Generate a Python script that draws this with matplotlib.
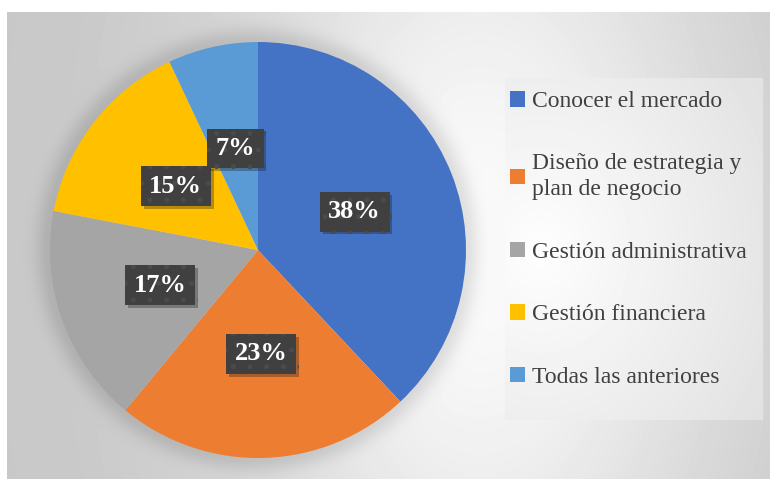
import numpy as np
import matplotlib
matplotlib.use("Agg")
import matplotlib.pyplot as plt
import matplotlib.patheffects as pe

# data
categorias = ["Conocer el mercado", "Diseño de estrategia y\nplan de negocio",
              "Gestión administrativa", "Gestión financiera", "Todas las anteriores"]
valores = [38, 23, 17, 15, 7]
colores = ["#4472C4", "#ED7D31", "#A5A5A5", "#FFC000", "#5B9BD5"]

W, H = 770, 479
plt.rcParams['font.family'] = ['Liberation Serif', 'DejaVu Serif']
plt.rcParams['hatch.linewidth'] = 1.2
fig = plt.figure(figsize=(W / 100, H / 100), dpi=100)


def fx(px):
    return px / W


def fy(py):
    return 1 - py / H


# background with radial gradient and soft shadow around the pie
x0, y0, x1, y1 = 7, 12, 770, 479
bg = fig.add_axes([fx(x0), fy(y1), (x1 - x0) / W, (y1 - y0) / H], zorder=0)
xx, yy = np.meshgrid(np.arange(x0, x1) + 0.5, np.arange(y0, y1) + 0.5)
val = 0.78 + 0.2 * np.exp(-(((xx - 480) / 252) ** 2 + ((yy - 250) / 443) ** 2))
r = np.hypot(xx - 258, yy - 250)
val -= 0.10 * np.exp(-((np.clip(r - 208, 0, None)) / 14) ** 2) * (r > 200)
bg.imshow(np.clip(val, 0, 1), cmap="gray", vmin=0, vmax=1, aspect="auto",
          interpolation="bilinear")
bg.axis("off")

# legend panel
lx0, ly0, lx1, ly1 = 505, 78, 763, 420
lp = fig.add_axes([fx(lx0), fy(ly1), (lx1 - lx0) / W, (ly1 - ly0) / H], zorder=1)
gx, gy = np.meshgrid(np.arange(lx0, lx1) + 0.5, np.arange(ly0, ly1) + 0.5)
lval = 0.995 - 0.11 * np.clip(np.hypot((gx - 540) / 260, (gy - 250) / 300), 0, 1)
lp.imshow(lval, cmap="gray", vmin=0, vmax=1, aspect="auto")
lp.axis("off")

# pie
ax = fig.add_axes([fx(50), fy(458), 416 / W, 416 / H], zorder=2)
wedges, textos, pcts = ax.pie(valores, colors=colores, startangle=90, counterclock=False,
                              autopct="%.0f%%", pctdistance=0.5,
                              wedgeprops=dict(linewidth=0))
for t in pcts:
    t.set_color("white")
    t.set_fontsize(19)
    t.set_fontweight("bold")
    t.set_bbox(dict(boxstyle="square,pad=0.32", facecolor="#404040",
                    edgecolor="#4b4b4b", linewidth=0, hatch="."))
    t.get_bbox_patch().set_path_effects([pe.SimplePatchShadow(offset=(2, -2), alpha=0.3),
                                         pe.Normal()])
ax.set_xlim(-1, 1)
ax.set_ylim(-1, 1)

leg = fig.legend(wedges, categorias, loc="upper left", bbox_to_anchor=(fx(510), fy(91)),
                 frameon=False, fontsize=17, handlelength=0.65, handleheight=0.65,
                 handletextpad=0.3, labelspacing=1.75, borderpad=0, borderaxespad=0)
for t in leg.get_texts():
    t.set_color("#404040")
    t.set_linespacing(1.3)
leg.set_zorder(3)

fig.savefig("out.png", dpi=100)
